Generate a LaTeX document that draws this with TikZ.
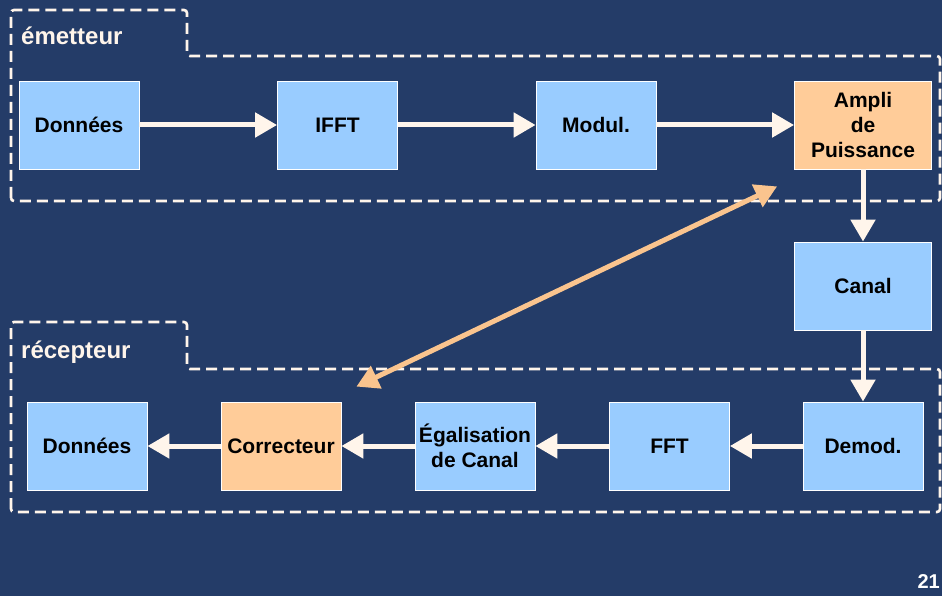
\documentclass[tikz,border=0pt]{standalone}
\usepackage{fontspec}
\setmainfont{Liberation Sans}
\usepackage{xcolor}
\usepackage{tikz}
\usetikzlibrary{positioning,calc,arrows.meta}

\definecolor{bgblue}{RGB}{36,60,104}
\definecolor{boxblue}{RGB}{153,204,255}
\definecolor{boxorange}{RGB}{255,204,153}
\definecolor{cream}{RGB}{255,245,235}
\definecolor{linkorange}{RGB}{250,196,142}

\tikzset{
    block/.style={draw=white, line width=0.8pt, fill=boxblue, minimum width=120pt, minimum height=88pt,
        inner sep=0pt, align=center, font=\bfseries\fontsize{21}{25}\selectfont},
    wideblock/.style={block, minimum width=137pt},
    hotblock/.style={fill=boxorange},
    flow/.style={-{Triangle[length=22pt,width=24pt]}, line width=5pt, draw=cream},
    region/.style={draw=cream, line width=2.6pt, dash pattern=on 11pt off 6pt, rounded corners=3pt},
    tag/.style={text=cream, anchor=base west, inner sep=0pt, font=\bfseries\fontsize{24}{28}\selectfont},
}

\begin{document}
\begin{tikzpicture}[x=1pt, y=-1pt]
    % Background
    \fill[bgblue] (0,0) rectangle (942,596);
    \useasboundingbox (0,0) rectangle (942,596);

    % Regions
    \draw[region] (11,201) -- (11,10) -- (187,10) -- (187,56) -- (940,56) -- (940,201) -- cycle;
    \draw[region] (11,512) -- (11,322) -- (187,322) -- (187,369) -- (940,369) -- (940,512) -- cycle;
    \node[tag] (emtag) at (21,45) {émetteur};
    \node[tag] (rectag) at (21,358) {récepteur};

    % Emitter chain
    \node[block] (don1) at (79,125) {Données};
    \node[block, right=137.7pt of don1] (ifft) {IFFT};
    \node[block, right=137.7pt of ifft] (modul) {Modul.};
    \node[wideblock, hotblock, right=137.7pt of modul] (ampli) {Ampli\\de\\Puissance};

    % Channel
    \node[wideblock, below=72.2pt of ampli] (canal) {Canal};

    % Receiver chain
    \node[block, below=71.2pt of canal] (demod) {Demod.};
    \node[block, left=72.7pt of demod] (fft) {FFT};
    \node[block, left=73.7pt of fft] (egal) {Égalisation\\de Canal};
    \node[block, hotblock, left=73.2pt of egal] (corr) {Correcteur};
    \node[block, left=73.2pt of corr] (don2) {Données};

    \draw[flow] (don1) -- (ifft);
    \draw[flow] (ifft) -- (modul);
    \draw[flow] (modul) -- (ampli);
    \draw[flow] (ampli) -- (canal);
    \draw[flow] (canal) -- (demod);
    \draw[flow] (demod) -- (fft);
    \draw[flow] (fft) -- (egal);
    \draw[flow] (egal) -- (corr);
    \draw[flow] (corr) -- (don2);

    % Feedback link
    \coordinate (linkA) at ($(ampli.south west)+(-17,17)$);
    \coordinate (linkB) at ($(corr.north east)+(15,-15)$);
    \draw[{Triangle[length=22pt,width=24pt]}-{Triangle[length=22pt,width=24pt]}, line width=5pt, draw=linkorange] (linkB) -- (linkA);

    % Page number
    \node[anchor=base east, inner sep=0pt, text=white, font=\bfseries\fontsize{20}{24}\selectfont] (page) at (940,588) {21};
\end{tikzpicture}
\end{document}
